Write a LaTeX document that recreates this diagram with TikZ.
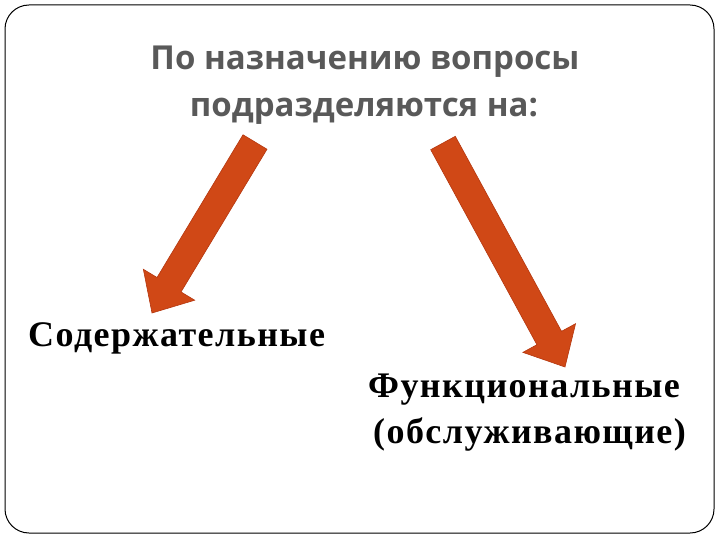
\documentclass[tikz,border=0pt]{standalone}
\usepackage{fontspec}
\setmainfont{Liberation Serif}
\newfontfamily\titlefont{Open Sans}
\newfontfamily\itemfont[LetterSpace=4]{Liberation Serif}
\usetikzlibrary{calc}
\definecolor{arrowfill}{RGB}{208,72,22}
\definecolor{arrowedge}{RGB}{180,55,15}
\definecolor{titlegray}{RGB}{89,89,89}
\tikzset{
  titletext/.style={font=\titlefont\bfseries\fontsize{33}{47}\selectfont, text=titlegray, anchor=base, inner sep=0pt},
  itemtext/.style={font=\itemfont\bfseries\fontsize{36}{46}\selectfont, text=black, anchor=base west, inner sep=0pt},
  bigarrow/.style={fill=arrowfill, draw=arrowedge, line width=0.6pt, line join=miter}
}
\newcommand{\fatarrow}[2]{%
  \coordinate (hb) at ($(#2)!33pt!(#1)$);
  \path[bigarrow]
    ($(#1)!14pt!90:(#2)$) -- ($(hb)!14pt!-90:(#1)$) -- ($(hb)!30pt!-90:(#1)$) --
    (#2) -- ($(hb)!30pt!90:(#1)$) -- ($(hb)!14pt!90:(#1)$) -- ($(#1)!14pt!-90:(#2)$) -- cycle;
}
\begin{document}
\begin{tikzpicture}[x=1pt,y=-1pt]
\useasboundingbox (0,0) rectangle (720,540);
\draw[black, line width=1pt, rounded corners=24pt] (5,5) rectangle (714,533);
\node[titletext] (t1) at (365,70) {По назначению вопросы};
\node[titletext] (t2) at (364,117) {подразделяются на:};
\node[itemtext] (a) at (28,346) {Содержательные};
\node[itemtext] (b1) at (368,397) {Функциональные};
\node[itemtext] (b2) at (373,443) {(обслуживающие)};
\coordinate (la) at (255,142);
\coordinate (lb) at (152,313);
\coordinate (ra) at (443,143);
\coordinate (rb) at (565,367);
\fatarrow{la}{lb}
\fatarrow{ra}{rb}
\end{tikzpicture}
\end{document}
